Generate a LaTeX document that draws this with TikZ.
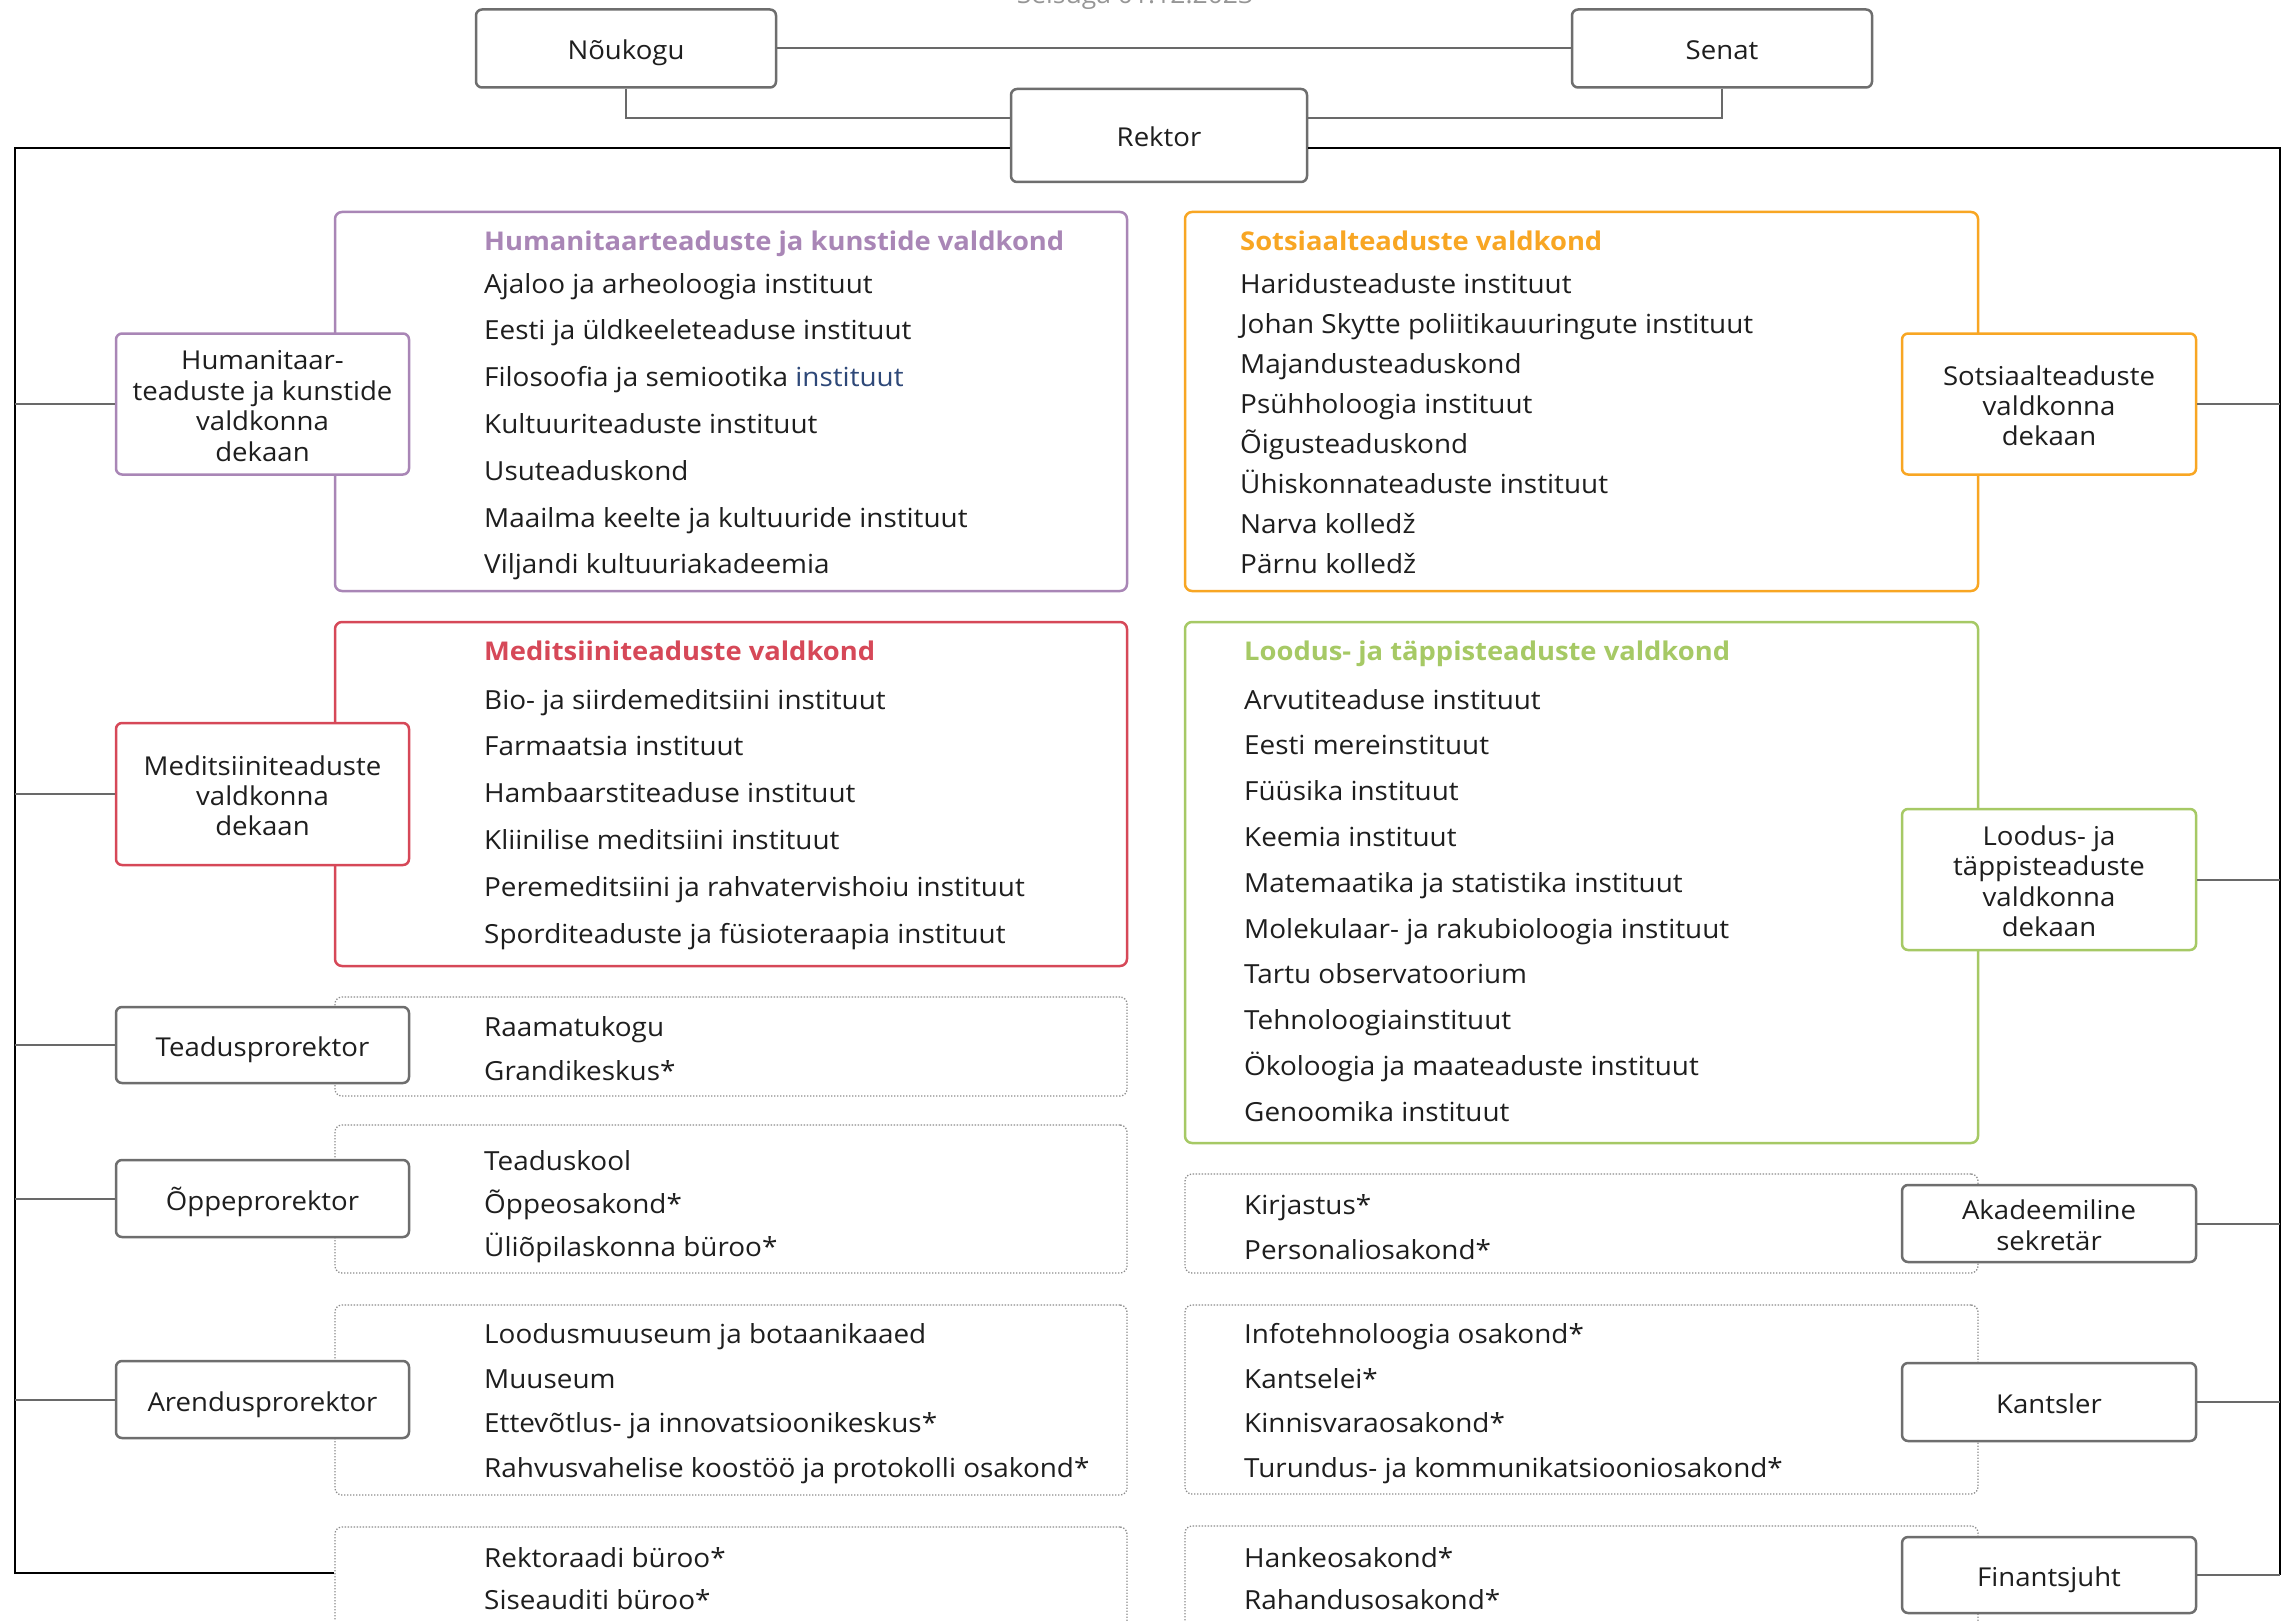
\documentclass[tikz,border=0pt]{standalone}
\usepackage{fontspec}
\setmainfont{Open Sans}[FakeStretch=1.06]
\newcommand{\boxtop}{\rule{0pt}{30pt}}
\newcommand{\boxbot}{\rule[-7pt]{0pt}{7pt}}
\definecolor{hum}{RGB}{169,134,182}
\definecolor{med}{RGB}{214,72,88}
\definecolor{sot}{RGB}{248,166,35}
\definecolor{lood}{RGB}{166,201,101}
\definecolor{boxgrey}{RGB}{110,110,110}
\definecolor{linkgrey}{RGB}{105,105,105}
\definecolor{dotgrey}{RGB}{140,140,140}
\definecolor{txt}{RGB}{30,30,30}
\definecolor{lnk}{RGB}{46,72,120}
\definecolor{datec}{RGB}{150,150,150}
\begin{document}
\begin{tikzpicture}[x=1pt,y=-1pt,
  box/.style={draw=#1, line width=2.5pt, rounded corners=6pt, fill=white, align=center, inner sep=0pt,
    font=\fontsize{26}{30.4}\selectfont, text=txt},
  box/.default=boxgrey,
  grp/.style={draw=#1, line width=2.5pt, rounded corners=7pt, fill=white, inner sep=0pt},
  dgrp/.style={draw=dotgrey, line width=1.3pt, dash pattern=on 1.3pt off 1.7pt, rounded corners=7pt, inner sep=0pt},
  item/.style={anchor=base west, inner sep=0pt, font=\fontsize{26.3}{30}\selectfont, text=txt},
  ttl/.style={anchor=base west, inner sep=0pt, font=\fontsize{25.8}{30}\selectfont\bfseries, text=#1},
  bus/.style={line width=2pt, draw=black},
  link/.style={line width=2pt, draw=linkgrey}]
\clip (0,0) rectangle (2282,1621);
\fill[white] (0,0) rectangle (2282,1621);

% date (cut off at top)
\node[anchor=base, inner sep=0pt, font=\fontsize{25}{30}\selectfont, text=datec] (date) at (1135,4) {Seisuga 01.12.2023};

% group frames
\node[grp=hum, minimum width=792pt, minimum height=379pt] (gHum) at (731,401.5) {};
\node[grp=med, minimum width=792pt, minimum height=344pt] (gMed) at (731,794) {};
\node[dgrp, minimum width=792pt, minimum height=99pt] (gTea) at (731,1046.5) {};
\node[dgrp, minimum width=792pt, minimum height=148pt] (gOpp) at (731,1199) {};
\node[dgrp, minimum width=792pt, minimum height=190pt] (gAre) at (731,1400) {};
\node[dgrp, minimum width=792pt, minimum height=133pt] (gRek) at (731,1593.5) {};
\node[grp=sot, minimum width=793pt, minimum height=379pt] (gSot) at (1581.5,401.5) {};
\node[grp=lood, minimum width=793pt, minimum height=521pt] (gLoo) at (1581.5,882.5) {};
\node[dgrp, minimum width=793pt, minimum height=99pt] (gKir) at (1581.5,1223.5) {};
\node[dgrp, minimum width=793pt, minimum height=189pt] (gInf) at (1581.5,1399.5) {};
\node[dgrp, minimum width=793pt, minimum height=134pt] (gHan) at (1581.5,1593) {};

% top boxes
\node[box, minimum width=300pt, minimum height=78pt] (nou) at (626,48.5) {\boxtop Nõukogu\boxbot};
\node[box, minimum width=300pt, minimum height=78pt] (sen) at (1722,48.5) {\boxtop Senat\boxbot};
\node[box, minimum width=296pt, minimum height=93pt] (rek) at (1159,135.5) {\boxtop Rektor\boxbot};

% left column boxes
\node[box=hum, minimum width=293pt, minimum height=141pt] (hd) at (262.5,404) {\boxtop Humanitaar-\\teaduste ja kunstide\\valdkonna\\dekaan\boxbot};
\node[box=med, minimum width=293pt, minimum height=142pt] (md) at (262.5,794) {\boxtop Meditsiiniteaduste\\valdkonna\\dekaan\boxbot};
\node[box, minimum width=293pt, minimum height=76pt] (tp) at (262.5,1045) {\boxtop Teadusprorektor\boxbot};
\node[box, minimum width=293pt, minimum height=77pt] (op) at (262.5,1198.5) {\boxtop Õppeprorektor\boxbot};
\node[box, minimum width=293pt, minimum height=77pt] (ap) at (262.5,1399.5) {\boxtop Arendusprorektor\boxbot};

% right column boxes
\node[box=sot, minimum width=294pt, minimum height=141pt] (sd) at (2049,404) {\boxtop Sotsiaalteaduste\\valdkonna\\dekaan\boxbot};
\node[box=lood, minimum width=294pt, minimum height=141pt] (ld) at (2049,879.5) {\boxtop Loodus- ja\\täppisteaduste\\valdkonna\\dekaan\boxbot};
\node[box, minimum width=294pt, minimum height=77pt] (as) at (2049,1223.5) {\boxtop Akadeemiline\\sekretär\boxbot};
\node[box, minimum width=294pt, minimum height=78pt] (ka) at (2049,1402) {\boxtop Kantsler\boxbot};
\node[box, minimum width=294pt, minimum height=76pt] (fj) at (2049,1575) {\boxtop Finantsjuht\boxbot};

% titles
\node[ttl=hum] (tHum) at (484,251) {Humanitaarteaduste ja kunstide valdkond};
\node[ttl=med] (tMed) at (484,660) {Meditsiiniteaduste valdkond};
\node[ttl=sot] (tSot) at (1240,251) {Sotsiaalteaduste valdkond};
\node[ttl=lood] (tLoo) at (1244,660) {Loodus- ja täppisteaduste valdkond};

% lists
\foreach \t [count=\i from 0] in {Ajaloo ja arheoloogia instituut, Eesti ja üldkeeleteaduse instituut,
  {Filosoofia ja semiootika \textcolor{lnk}{instituut}}, Kultuuriteaduste instituut, Usuteaduskond,
  Maailma keelte ja kultuuride instituut, Viljandi kultuuriakadeemia}
  \node[item] (hum\i) at (484,{293+46.8*\i}) {\t};
\foreach \t [count=\i from 0] in {Bio- ja siirdemeditsiini instituut, Farmaatsia instituut,
  Hambaarstiteaduse instituut, Kliinilise meditsiini instituut, Peremeditsiini ja rahvatervishoiu instituut,
  Sporditeaduste ja füsioteraapia instituut}
  \node[item] (med\i) at (484,{709+46.8*\i}) {\t};
\foreach \t [count=\i from 0] in {Haridusteaduste instituut, Johan Skytte poliitikauuringute instituut,
  Majandusteaduskond, Psühholoogia instituut, Õigusteaduskond, Ühiskonnateaduste instituut,
  Narva kolledž, Pärnu kolledž}
  \node[item] (sot\i) at (1240,{293+40.1*\i}) {\t};
\foreach \t [count=\i from 0] in {Arvutiteaduse instituut, Eesti mereinstituut, Füüsika instituut,
  Keemia instituut, Matemaatika ja statistika instituut, Molekulaar- ja rakubioloogia instituut,
  Tartu observatoorium, Tehnoloogiainstituut, Ökoloogia ja maateaduste instituut, Genoomika instituut}
  \node[item] (loo\i) at (1244,{709+45.8*\i}) {\t};
\foreach \t [count=\i from 0] in {Raamatukogu, Grandikeskus*}
  \node[item] (tea\i) at (484,{1036.5+43.7*\i}) {\t};
\foreach \t [count=\i from 0] in {Teaduskool, Õppeosakond*, Üliõpilaskonna büroo*}
  \node[item] (opp\i) at (484,{1170.4+43*\i}) {\t};
\foreach \t [count=\i from 0] in {Loodusmuuseum ja botaanikaaed, Muuseum,
  Ettevõtlus- ja innovatsioonikeskus*, Rahvusvahelise koostöö ja protokolli osakond*}
  \node[item] (are\i) at (484,{1343.6+44.6*\i}) {\t};
\foreach \t [count=\i from 0] in {Rektoraadi büroo*, Siseauditi büroo*}
  \node[item] (rkb\i) at (484,{1567.7+42.2*\i}) {\t};
\foreach \t [count=\i from 0] in {Kirjastus*, Personaliosakond*}
  \node[item] (kir\i) at (1244,{1214.1+45.1*\i}) {\t};
\foreach \t [count=\i from 0] in {Infotehnoloogia osakond*, Kantselei*, Kinnisvaraosakond*,
  Turundus- ja kommunikatsiooniosakond*}
  \node[item] (inf\i) at (1244,{1343.6+44.6*\i}) {\t};
\foreach \t [count=\i from 0] in {Hankeosakond*, Rahandusosakond*}
  \node[item] (han\i) at (1244,{1567.7+42.2*\i}) {\t};

% connectors
\coordinate (bl) at (15,1573);
\coordinate (br) at (2280,1575);
\draw[link] (nou.east) -- (sen.west);
\draw[link] (nou.south) |- ([yshift=-30pt]rek.north west);
\draw[link] (sen.south) |- ([yshift=-30pt]rek.north east);
\draw[bus] ([yshift=-12.5pt]rek.west) -| (bl) -- (gRek.west |- bl);
\draw[bus] ([yshift=-12.5pt]rek.east) -| (br);
\foreach \n in {hd,md,tp,op,ap}
  \draw[link] (\n.west -| bl) -- (\n.west);
\foreach \n in {sd,ld,as,ka,fj}
  \draw[link] (\n.east) -- (\n.east -| br);
\end{tikzpicture}
\end{document}
